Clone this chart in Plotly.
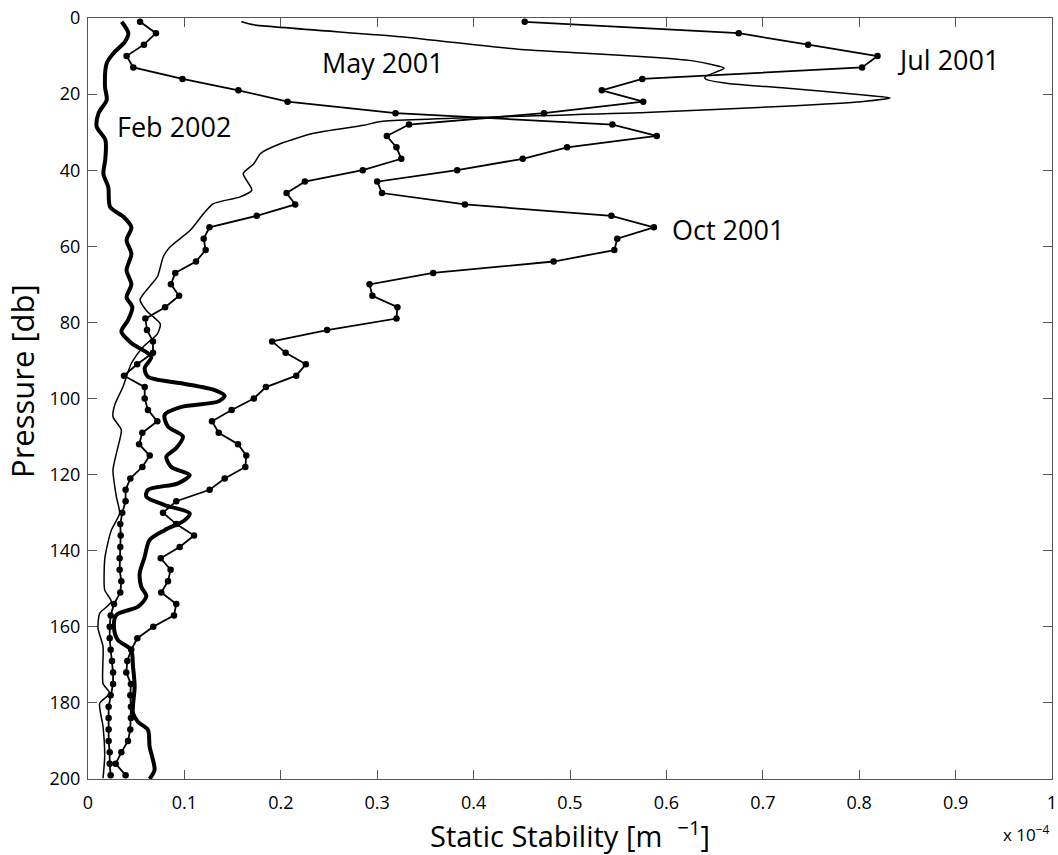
import plotly.graph_objects as go

# Pressure levels [db] for the profiled (marker) casts
p_cast = [1, 4, 7, 10, 13, 16, 19, 22, 25, 28, 31, 34, 37, 40, 43, 46, 49, 52, 55, 58,
          61, 64, 67, 70, 73, 76, 79, 82, 85, 88, 91, 94, 97, 100, 103, 106, 109, 112, 115, 118,
          121, 124, 127, 130, 133, 136, 139, 142, 145, 148, 151, 154, 157, 160, 163, 166, 169, 172, 175, 178,
          181, 184, 187, 190, 193, 196, 199]

jul_2001 = [0.453, 0.675, 0.747, 0.819, 0.803, 0.575, 0.533, 0.576, 0.473, 0.333,
            0.310, 0.320, 0.325, 0.285, 0.225, 0.206, 0.215, 0.175, 0.126, 0.120,
            0.122, 0.112, 0.0905, 0.086, 0.0945, 0.080, 0.0595, 0.0612, 0.0674, 0.0674,
            0.051, 0.0373, 0.0588, 0.0588, 0.0622, 0.0719, 0.0564, 0.053, 0.064, 0.0564,
            0.0439, 0.039, 0.039, 0.0356, 0.0335, 0.0339, 0.0335, 0.0328, 0.0328, 0.0346,
            0.0335, 0.027, 0.0235, 0.0225, 0.0225, 0.0235, 0.0249, 0.026, 0.026, 0.0235,
            0.0214, 0.0214, 0.0214, 0.0214, 0.0225, 0.0225, 0.0235]

oct_2001 = [0.054, 0.0705, 0.058, 0.040, 0.047, 0.098, 0.156, 0.207, 0.319, 0.544,
            0.590, 0.497, 0.451, 0.383, 0.300, 0.305, 0.391, 0.543, 0.587, 0.549,
            0.546, 0.483, 0.358, 0.292, 0.295, 0.321, 0.320, 0.248, 0.191, 0.205,
            0.226, 0.216, 0.1846, 0.172, 0.149, 0.1286, 0.1356, 0.1556, 0.1642, 0.1632,
            0.1418, 0.1262, 0.0916, 0.0778, 0.0916, 0.110, 0.0951, 0.0754, 0.0857, 0.083,
            0.076, 0.0916, 0.0892, 0.0677, 0.0512, 0.0449, 0.0408, 0.0397, 0.0445, 0.0439,
            0.0445, 0.0445, 0.0439, 0.0415, 0.0346, 0.0287, 0.039]

# May 2001 (thin, continuous profile)
p_may = [1, 1.8, 4.9, 8.2, 9.2, 10.3, 11.2, 12.3, 13.2, 15.5, 16.1, 17.2, 18.4, 20.2, 21, 22,
         23.2, 24.8, 27.2, 28.2, 30.3, 33, 35.6, 38.3, 40.9, 45.2, 47, 48.8, 51.4, 55.8,
         60.2, 62.8, 65.5, 68, 74, 77, 80.4, 83, 86.5, 90.8, 96.9, 101.7, 104.8, 108.3,
         112.7, 118.8, 125.8, 130.2, 134.6, 139.8, 142.4, 150.3, 153.4, 156.5, 160.4,
         165.2, 174.9, 177.5, 180.1, 186.2, 194.1, 199.8]
may_2001 = [0.159, 0.172, 0.324, 0.446, 0.511, 0.585, 0.626, 0.648, 0.66, 0.64, 0.641, 0.664,
            0.723, 0.802, 0.832, 0.802, 0.723, 0.584, 0.304, 0.286, 0.234, 0.2, 0.179, 0.172,
            0.161, 0.17, 0.158, 0.13, 0.12, 0.106, 0.085, 0.078, 0.075, 0.072, 0.054, 0.061,
            0.075, 0.072, 0.057, 0.0449, 0.0363, 0.0277, 0.0259, 0.0346, 0.0311, 0.0259,
            0.0294, 0.0328, 0.0242, 0.019, 0.0173, 0.0173, 0.0242, 0.0121, 0.0104, 0.0156,
            0.0156, 0.0225, 0.0121, 0.0156, 0.0173, 0.0156]

# Feb 2002 (thick, continuous profile)
p_feb = [1, 4, 6.2, 9.3, 11.9, 18, 21.5, 25, 28.6, 32, 37, 41, 44.4, 49.7, 52.3, 55, 58.4,
         62, 66.3, 70, 73.4, 76, 79.4, 82.4, 85.4, 89, 92, 94.3, 96, 97.8, 99.3, 100.8,
         102.2, 104.3, 107.4, 110, 113, 115.3, 118, 120.1, 122.3, 124, 125.8, 128, 130.2,
         132, 134.6, 137.2, 141.6, 146, 149.5, 152, 154.7, 156.9, 160.4, 163.5, 166, 170.5,
         175.7, 182.7, 185, 187.1, 191.5, 195, 197.6, 200]
feb_2002 = [0.0349, 0.0418, 0.0384, 0.0263, 0.0194, 0.0176, 0.0194, 0.011, 0.009, 0.018,
            0.018, 0.016, 0.021, 0.023, 0.037, 0.045, 0.040, 0.045, 0.040, 0.045, 0.040,
            0.046, 0.0415, 0.0346, 0.0449, 0.0657, 0.0588, 0.0622, 0.0968, 0.1314, 0.1418,
            0.1349, 0.0968, 0.0795, 0.083, 0.0985, 0.0916, 0.0813, 0.0864, 0.1055, 0.0934,
            0.0622, 0.0605, 0.0795, 0.1055, 0.1003, 0.0795, 0.0639, 0.0588, 0.0536, 0.0553,
            0.0605, 0.0519, 0.0294, 0.027, 0.0311, 0.0446, 0.0467, 0.0484, 0.0467, 0.0519,
            0.0622, 0.0639, 0.0674, 0.0691, 0.0639]

labels = ["May 2001", "Jul 2001", "Oct 2001", "Feb 2002"]
label_x = [0.241, 0.837, 0.604, 0.028]
label_p = [11.6, 11.0, 55.7, 28.6]

FONT = "Open Sans"
fig = go.Figure()

fig.add_trace(go.Scatter(x=may_2001, y=p_may, mode="lines",
                         line=dict(color="black", width=1.5, shape="spline", smoothing=0.6),
                         name="May 2001"))
fig.add_trace(go.Scatter(x=feb_2002, y=p_feb, mode="lines",
                         line=dict(color="black", width=4, shape="spline", smoothing=0.8),
                         name="Feb 2002"))
fig.add_trace(go.Scatter(x=jul_2001, y=p_cast, mode="lines+markers",
                         line=dict(color="black", width=1.8),
                         marker=dict(color="black", size=6.5),
                         name="Jul 2001"))
fig.add_trace(go.Scatter(x=oct_2001, y=p_cast, mode="lines+markers",
                         line=dict(color="black", width=1.8),
                         marker=dict(color="black", size=6.5),
                         name="Oct 2001"))

for t, lx, lp in zip(labels, label_x, label_p):
    fig.add_annotation(x=lx, y=lp, text=t, showarrow=False, xanchor="left",
                       yanchor="middle", font=dict(family=FONT, size=27, color="black"))

# exponent note under the right end of the x axis
fig.add_annotation(xref="paper", yref="paper", x=1.0, y=-0.052, text="x 10<sup>−4</sup>",
                   showarrow=False, xanchor="right", yanchor="top",
                   font=dict(family=FONT, size=17, color="black"))

# y axis title placed as a rotated annotation (centred as in the original)
fig.add_annotation(xref="paper", yref="paper", x=-0.0685, y=0.523, text="Pressure [db]",
                   textangle=-90, showarrow=False, xanchor="center", yanchor="middle",
                   font=dict(family=FONT, size=31, color="black"))

axis_common = dict(showgrid=False, zeroline=False, showline=True, linecolor="#555555",
                   linewidth=1.2, mirror="ticks", ticks="inside", ticklen=9, tickwidth=1.2,
                   tickcolor="#555555", ticklabeloverflow="allow",
                   tickfont=dict(family=FONT, size=18, color="black"))

fig.update_xaxes(range=[0, 1], tickvals=[0, 0.1, 0.2, 0.3, 0.4, 0.5, 0.6, 0.7, 0.8, 0.9, 1],
                 ticktext=["0", "0.1", "0.2", "0.3", "0.4", "0.5", "0.6", "0.7", "0.8", "0.9", "1"],
                 ticklabelstandoff=7,
                 title=dict(text="Static Stability [m  <sup>−1</sup>]",
                            font=dict(family=FONT, size=29, color="black"), standoff=6),
                 **axis_common)
fig.update_yaxes(range=[200, 0], tickvals=[0, 20, 40, 60, 80, 100, 120, 140, 160, 180, 200],
                 ticklabelstandoff=3,
                 **axis_common)

fig.update_layout(width=1058, height=855, showlegend=False,
                  paper_bgcolor="white", plot_bgcolor="white",
                  margin=dict(l=88, r=6, t=18, b=76, autoexpand=False),
                  font=dict(family=FONT, color="black"))

fig.write_html("out.html", config={"displayModeBar": False},
               post_script="document.body.style.margin='0';document.body.style.overflow='hidden';")
